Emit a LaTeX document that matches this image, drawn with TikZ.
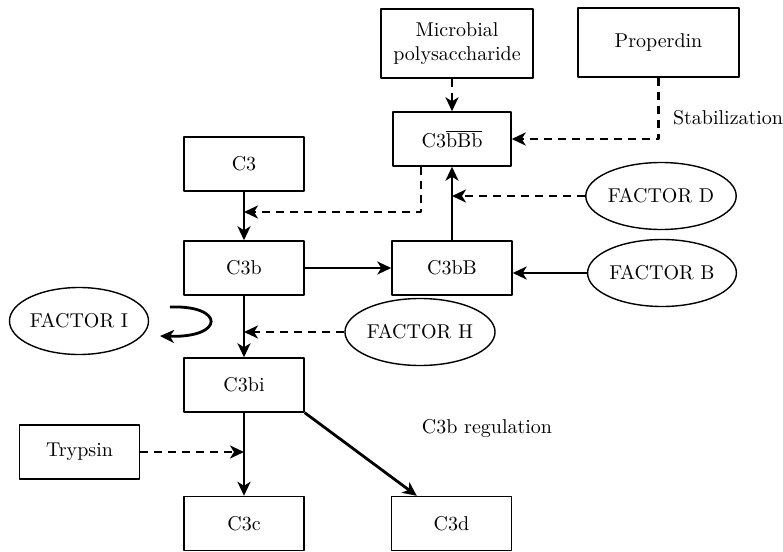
\documentclass[tikz,border=0pt]{standalone}
\usetikzlibrary{arrows.meta,shapes.geometric}
\begin{document}
\begin{tikzpicture}[x=.5pt, y=-.5pt, font=\fontsize{10}{12}\selectfont, line join=round,
		>={Stealth[length=7pt,width=6.5pt,inset=2pt]},
		hop/.style={draw, line width=.7pt, minimum width=60pt, minimum height=27pt, inner sep=1pt, align=center},
		fac/.style={draw, ellipse, line width=.7pt, minimum width=68pt, minimum height=33.5pt, inner sep=0pt},
		con/.style={->, line width=1.4pt},
		dcon/.style={->, line width=1.4pt, dash pattern=on 4pt off 3pt}]
	\useasboundingbox (0,0) rectangle (783,552);
	% boxes (px coordinates)
	\node[hop, minimum width=76pt, minimum height=34.5pt] (mp) at (457,43.5) {Microbial\\polysaccharide};
	\node[hop, minimum width=80.5pt, minimum height=34.5pt] (prop) at (658.5,42.5) {Properdin};
	\node[hop, minimum width=59pt] (cbbb) at (452,139) {C3$\overline{\mbox{bBb}}$};
	\node[hop] (c3) at (244,164) {C3};
	\node[hop] (c3b) at (244,268) {C3b};
	\node[hop] (c3bb) at (452,268) {C3bB};
	\node[hop] (c3bi) at (244,385) {C3bi};
	\node[hop] (c3c) at (244,523.5) {C3c};
	\node[hop] (c3d) at (451.5,523.5) {C3d};
	\node[hop] (tryp) at (79.5,452) {Trypsin};
	% factors
	\node[fac] (fd) at (661,196) {FACTOR D};
	\node[fac] (fb) at (662,273) {FACTOR B};
	\node[fac] (fh) at (420,332) {FACTOR H};
	\node[fac] (fi) at (79,321) {FACTOR I};
	% labels
	\node[anchor=west] (stab) at (666,118) {Stabilization};
	\node (reg) at (487,429) {C3b regulation};
	\coordinate (dj) at (244,212);
	\coordinate (fi1) at (170,307);
	\coordinate (fi2) at (160,336);
	% main path
	\draw[con] (c3) -- (c3b);
	\draw[con] (c3b) -- (c3bb);
	\draw[con] (c3bb) -- (cbbb);
	\draw[con] (fb.west) -- (fb.west -| c3bb.east);
	\draw[con] (c3b) -- (c3bi);
	\draw[con] (c3bi) -- (c3c);
	\draw[con] (c3bi.south east) -- ([xshift=13pt]c3d.north west);
	% dashed influences
	\draw[dcon] (cbbb.north |- mp.south) -- (cbbb.north);
	\draw[dcon] (prop.south) |- (cbbb.east);
	\draw[dcon] ([xshift=-15.5pt]cbbb.south) |- (dj);
	\draw[dcon] (fd.west) -- (fd.west -| c3bb.north);
	\draw[dcon] (fh.west) -- (fh.west -| c3b.south);
	\draw[dcon] (tryp.east) -- (tryp.east -| c3bi.south);
	% factor I loop
	\draw[con] (fi1) .. controls (225,305) and (225,338) .. (fi2);
\end{tikzpicture}
\end{document}
